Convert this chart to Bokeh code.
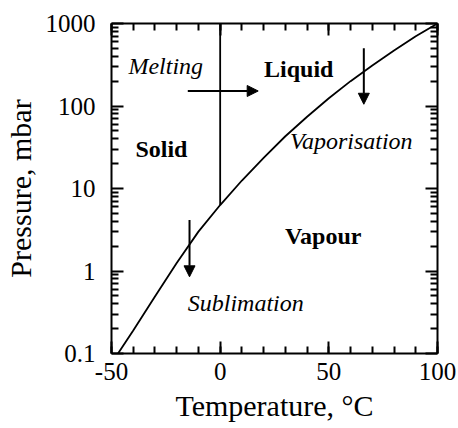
from bokeh.plotting import figure
from bokeh.models import (ColumnDataSource, LinearAxis, LogAxis, SingleIntervalTicker,
                          FixedTicker, Arrow, NormalHead)
from bokeh.embed import file_html
from bokeh.resources import INLINE

# Saturation vapour pressure of water (over ice below 0 degC, over liquid above)
temperature_c = [-47, -40, -30, -20, -10, 0, 10, 20, 30, 40, 50, 60, 70, 80, 90, 100]
pressure_mbar = [0.10, 0.19, 0.49, 1.25, 3.0, 6.3, 12.5, 23.5, 43, 74, 124, 200, 310, 470, 700, 1000]

# Melting line (solid / liquid boundary)
melt_t = [0, 0]
melt_p = [6.3, 1000]

# Phase-change arrows: start and end points
arrow_x0 = [-14.9, 66.1, -14.1]
arrow_y0 = [152, 500, 4.15]
arrow_x1 = [17.5, 66.1, -14.1]
arrow_y1 = [152, 105, 0.85]

# Region and transition labels
label_text = ["Melting", "Liquid", "Solid", "Vaporisation", "Vapour", "Sublimation"]
label_t = [-42.2, 20.2, -39.0, 32.1, 29.8, -14.9]
label_p = [305, 280, 30, 37.7, 2.65, 0.41]
label_style = ["italic", "bold", "bold", "italic", "bold", "italic"]

x_major = [-50, 0, 50, 100]
x_tick_labels = ["-50", "0", "50", "100"]
y_major = [0.1, 1, 10, 100, 1000]
y_tick_labels = ["0.1", "1", "10", "100", "1000"]
y_minor = [m * d for d in [0.1, 1, 10, 100] for m in range(2, 10)]

TITLE_FONT = "Liberation Serif"
TICK_FONT = "Liberation Serif"
LABEL_FONT = "Liberation Serif"

p = figure(width=458, height=428, x_range=(-50, 100), y_range=(0.1, 1000),
           y_axis_type="log", output_backend="svg", toolbar_location=None,
           min_border_left=108, min_border_right=21, min_border_top=23, min_border_bottom=75)
p.xgrid.grid_line_color = None
p.ygrid.grid_line_color = None
p.outline_line_color = None


def style_ticks(ax):
    ax.axis_line_width = 2
    ax.major_tick_in = 12
    ax.major_tick_out = 0
    ax.minor_tick_in = 7
    ax.minor_tick_out = 0
    ax.major_tick_line_width = 2
    ax.minor_tick_line_width = 2


def style_labels(ax):
    ax.major_label_text_font = TICK_FONT
    ax.major_label_text_font_size = "25px"
    ax.major_label_text_font_style = "normal"
    ax.major_label_text_color = "black"
    ax.axis_label_text_font = TITLE_FONT
    ax.axis_label_text_font_size = "30px"
    ax.axis_label_text_font_style = "normal"
    ax.axis_label_text_color = "black"
    ax.axis_label_standoff = 6


xb = p.xaxis[0]
xb.ticker = SingleIntervalTicker(interval=50, num_minor_ticks=5)
xb.major_label_overrides = dict(zip(x_major, x_tick_labels))
xb.axis_label = "Temperature, °C"
style_ticks(xb)
style_labels(xb)
xb.major_label_standoff = 9

yl = p.yaxis[0]
yl.ticker = FixedTicker(ticks=y_major, minor_ticks=y_minor)
yl.major_label_overrides = dict(zip(y_major, y_tick_labels))
yl.axis_label = "Pressure, mbar"
style_ticks(yl)
style_labels(yl)
yl.major_label_standoff = 16

# Mirrored tick marks on the top and right edges, without labels
xt = LinearAxis(ticker=SingleIntervalTicker(interval=50, num_minor_ticks=5),
                major_label_overrides={t: "" for t in x_major})
style_ticks(xt)
xt.major_label_standoff = 0
xt.major_label_text_font_size = "1px"
p.add_layout(xt, "above")

yr = LogAxis(ticker=FixedTicker(ticks=y_major, minor_ticks=y_minor),
             major_label_overrides={t: "" for t in y_major})
style_ticks(yr)
yr.major_label_standoff = 0
yr.major_label_text_font_size = "1px"
p.add_layout(yr, "right")

# Sublimation / vaporisation curve
p.line(temperature_c, pressure_mbar, line_color="black", line_width=1.8)
# Melting line
p.line(melt_t, melt_p, line_color="black", line_width=1.8)

for x0, y0, x1, y1 in zip(arrow_x0, arrow_y0, arrow_x1, arrow_y1):
    p.add_layout(Arrow(x_start=x0, y_start=y0, x_end=x1, y_end=y1,
                       line_color="black", line_width=2,
                       end=NormalHead(size=11, fill_color="black", line_color="black",
                                      line_width=1)))

labels = ColumnDataSource(dict(x=label_t, y=label_p, text=label_text, style=label_style,
                               font=[LABEL_FONT] * len(label_text)))
p.text(x="x", y="y", text="text", source=labels, text_font="font",
       text_font_size="24px", text_font_style="style", text_align="left",
       text_baseline="middle", text_color="black")

open("out.html", "w").write(file_html(p, INLINE))
